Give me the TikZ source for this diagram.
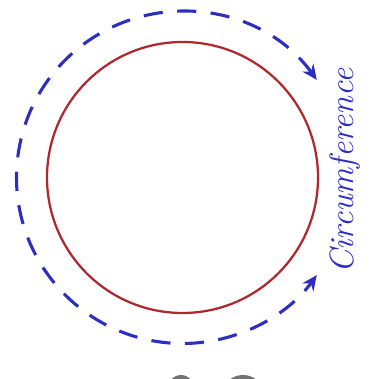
\documentclass[tikz,border=0pt]{standalone}
\usepackage{tikz}
\usetikzlibrary{arrows.meta,calc}
\definecolor{circred}{RGB}{175,40,45}
\definecolor{arcblue}{RGB}{45,45,195}

\begin{document}
\begin{tikzpicture}[
    x=0.025cm, y=0.025cm,
    rim/.style={draw=circred, line width=1.6pt},
    arcarr/.style={draw=arcblue, line width=2.2pt, dash pattern=on 0.48cm off 0.36cm, {Stealth[length=0.38cm, width=0.34cm]}-{Stealth[length=0.38cm, width=0.34cm]}},
    lbl/.style={text=arcblue, font=\fontsize{24}{24}\selectfont\itshape, rotate=90, inner sep=0pt},
    blob/.style={fill=black!55}
]
\useasboundingbox (0,0) rectangle (376,379);
\clip (0,0) rectangle (376,379);
\coordinate (c) at (182.5,201.5);
\draw[rim] (c) circle (135.5);
\draw[arcarr] ($(c)+(36:166)$) arc[start angle=36, end angle=324, radius=166];
\node[lbl] (circ) at (345,208) {Circumference};
% cut off shapes at the bottom edge
\fill[blob] (181,-12) ellipse (14 and 16);
\fill[blob] (243,-14) ellipse (20 and 18);
\end{tikzpicture}
\end{document}
